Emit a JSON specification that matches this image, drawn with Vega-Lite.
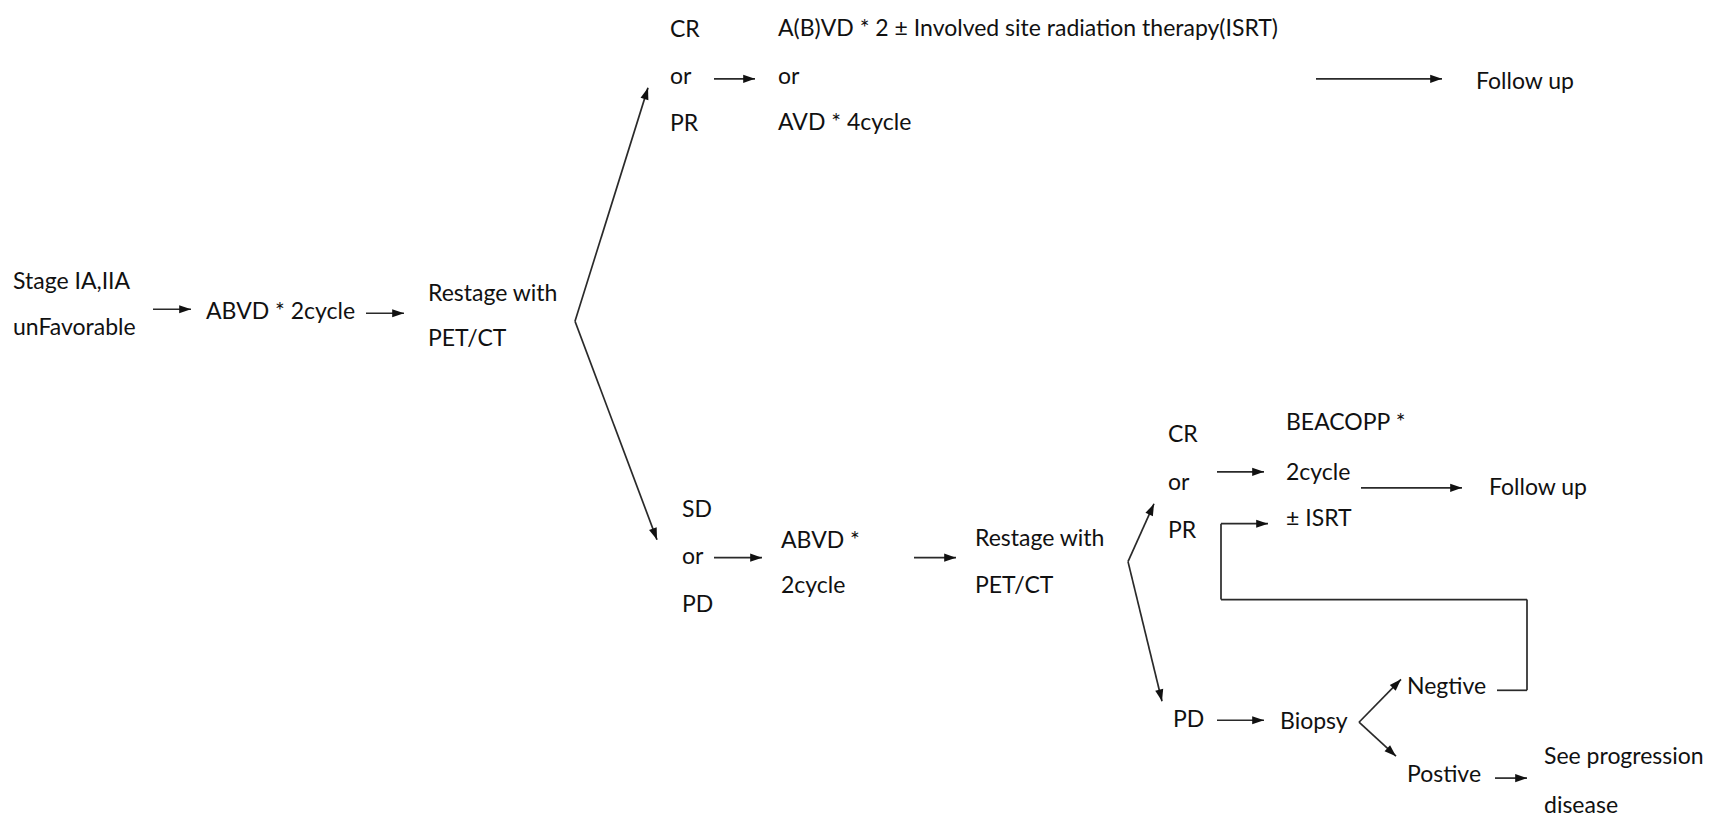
{
  "$schema": "https://vega.github.io/schema/vega-lite/v6.json",
  "width": 1723,
  "height": 818,
  "autosize": {"type": "fit", "contains": "padding"},
  "padding": 0,
  "background": "white",
  "config": {"view": {"stroke": null}},
  "datasets": {
    "labels": [
      {"x": 13, "y": 283, "label": "Stage IA,IIA"},
      {"x": 13, "y": 329, "label": "unFavorable"},
      {"x": 206, "y": 313, "label": "ABVD * 2cycle"},
      {"x": 428, "y": 295, "label": "Restage with"},
      {"x": 428, "y": 340, "label": "PET/CT"},
      {"x": 670, "y": 30, "label": "CR"},
      {"x": 670, "y": 77, "label": "or"},
      {"x": 670, "y": 124, "label": "PR"},
      {"x": 778, "y": 29, "label": "A(B)VD * 2 ± Involved site radiation therapy(ISRT)"},
      {"x": 778, "y": 77, "label": "or"},
      {"x": 778, "y": 123, "label": "AVD * 4cycle"},
      {"x": 1476, "y": 82, "label": "Follow up"},
      {"x": 682, "y": 511, "label": "SD"},
      {"x": 682, "y": 558, "label": "or"},
      {"x": 682, "y": 606, "label": "PD"},
      {"x": 781, "y": 542, "label": "ABVD *"},
      {"x": 781, "y": 587, "label": "2cycle"},
      {"x": 975, "y": 540, "label": "Restage with"},
      {"x": 975, "y": 587, "label": "PET/CT"},
      {"x": 1168, "y": 436, "label": "CR"},
      {"x": 1168, "y": 484, "label": "or"},
      {"x": 1168, "y": 532, "label": "PR"},
      {"x": 1286, "y": 424, "label": "BEACOPP *"},
      {"x": 1286, "y": 474, "label": "2cycle"},
      {"x": 1286, "y": 520, "label": "± ISRT"},
      {"x": 1489, "y": 489, "label": "Follow up"},
      {"x": 1173, "y": 722, "label": "PD"},
      {"x": 1280, "y": 724, "label": "Biopsy"},
      {"x": 1407, "y": 689, "label": "Negtive"},
      {"x": 1407, "y": 777, "label": "Postive"},
      {"x": 1544, "y": 759, "label": "See progression"},
      {"x": 1544, "y": 808, "label": "disease"}
    ],
    "segments": [
      {"x": 153, "y": 310, "x2": 191, "y2": 310, "head": true},
      {"x": 366, "y": 314, "x2": 404, "y2": 314, "head": true},
      {"x": 575, "y": 322, "x2": 648, "y2": 88, "head": true},
      {"x": 575, "y": 322, "x2": 657, "y2": 541, "head": true},
      {"x": 714, "y": 79, "x2": 755, "y2": 79, "head": true},
      {"x": 1316, "y": 79, "x2": 1442, "y2": 79, "head": true},
      {"x": 714, "y": 559, "x2": 762, "y2": 559, "head": true},
      {"x": 914, "y": 559, "x2": 956, "y2": 559, "head": true},
      {"x": 1128, "y": 563, "x2": 1154, "y2": 505, "head": true},
      {"x": 1128, "y": 563, "x2": 1162, "y2": 703, "head": true},
      {"x": 1217, "y": 473, "x2": 1264, "y2": 473, "head": true},
      {"x": 1361, "y": 489, "x2": 1462, "y2": 489, "head": true},
      {"x": 1497, "y": 692, "x2": 1527, "y2": 692, "head": false},
      {"x": 1527, "y": 692, "x2": 1527, "y2": 601, "head": false},
      {"x": 1527, "y": 601, "x2": 1221, "y2": 601, "head": false},
      {"x": 1221, "y": 601, "x2": 1221, "y2": 525, "head": false},
      {"x": 1221, "y": 525, "x2": 1268, "y2": 525, "head": true},
      {"x": 1217, "y": 722, "x2": 1264, "y2": 722, "head": true},
      {"x": 1359, "y": 724, "x2": 1401, "y2": 681, "head": true},
      {"x": 1359, "y": 724, "x2": 1396, "y2": 758, "head": true},
      {"x": 1495, "y": 780, "x2": 1527, "y2": 780, "head": true}
    ]
  },
  "layer": [
    {
      "data": {"name": "segments"},
      "mark": {"type": "rule", "color": "#2a2a2a", "strokeWidth": 1.7},
      "encoding": {
        "x": {"field": "x", "type": "quantitative", "scale": {"domain": [0, 1723], "nice": false, "zero": false}, "axis": null},
        "y": {"field": "y", "type": "quantitative", "scale": {"domain": [0, 818], "nice": false, "zero": false, "reverse": true}, "axis": null},
        "x2": {"field": "x2"},
        "y2": {"field": "y2"}
      }
    },
    {
      "data": {"name": "segments"},
      "transform": [
        {"filter": "datum.head"},
        {"calculate": "atan2(datum.x2 - datum.x, datum.y - datum.y2) * 180 / PI", "as": "ang"}
      ],
      "mark": {"type": "point", "filled": true, "color": "#111111", "opacity": 1, "strokeWidth": 0, "shape": "M0,0L-0.45,1.3L0.45,1.3Z", "size": 330},
      "encoding": {
        "x": {"field": "x2", "type": "quantitative", "scale": {"domain": [0, 1723], "nice": false, "zero": false}, "axis": null},
        "y": {"field": "y2", "type": "quantitative", "scale": {"domain": [0, 818], "nice": false, "zero": false, "reverse": true}, "axis": null},
        "angle": {"field": "ang", "type": "quantitative", "scale": null}
      }
    },
    {
      "data": {"name": "labels"},
      "mark": {"type": "text", "align": "left", "baseline": "middle", "font": "Lato", "fontSize": 23, "color": "#111111"},
      "encoding": {
        "x": {"field": "x", "type": "quantitative", "scale": {"domain": [0, 1723], "nice": false, "zero": false}, "axis": null},
        "y": {"field": "y", "type": "quantitative", "scale": {"domain": [0, 818], "nice": false, "zero": false, "reverse": true}, "axis": null},
        "text": {"field": "label"}
      }
    }
  ]
}
